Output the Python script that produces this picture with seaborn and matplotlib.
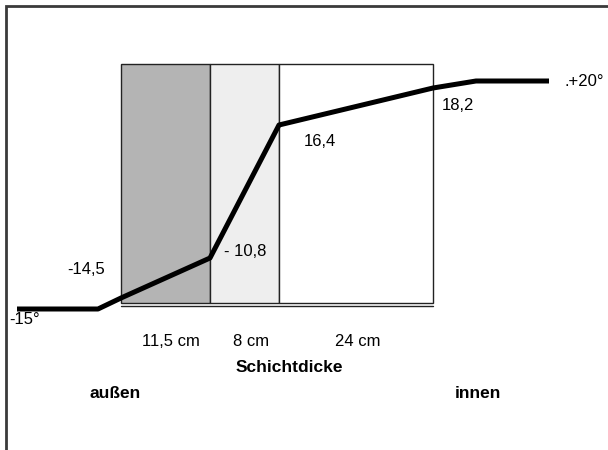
import matplotlib
matplotlib.use("Agg")
import matplotlib.pyplot as plt
import seaborn as sns
import pandas as pd

# schematic wall layers (drawing units, not to scale)
layer_left = [121, 210, 279]
layer_width = [89, 69, 154]
layer_labels = ["11,5 cm", "8 cm", "24 cm"]
layer_colors = ["#b4b4b4", "#eeeeee", "#ffffff"]
wall_top = 64
wall_bottom = 303

# temperature profile through the wall (schematic heights)
temp_x = [17, 98, 121, 210, 279, 433, 476, 549]
temp_y = [309, 309, 298, 258, 125, 88, 81, 81]

# labels of the temperatures at the layer boundaries
point_labels = ["-15°", "-14,5", "- 10,8", "16,4", "18,2", ".+20°"]
point_x = [9, 86, 245, 320, 458, 565]
point_y = [320, 269, 252, 142, 105, 82]
point_ha = ["left", "center", "center", "center", "center", "left"]

sns.set_style("white")
plt.rcParams['font.family'] = ['Liberation Sans', 'DejaVu Sans']
plt.rcParams['text.color'] = 'black'

fig = plt.figure(figsize=(6.08, 4.5), dpi=100)
ax = fig.add_axes([0, 0, 1, 1])

# frame (left and top only)
ax.plot([6, 6, 608], [450, 6, 6], color="#3a3a3a", lw=2, solid_joinstyle="miter")

# layers
ax.bar(layer_left, [wall_bottom - wall_top] * 3, width=layer_width, bottom=wall_top,
       align="edge", color=layer_colors, edgecolor="#222222", linewidth=1.0, zorder=1)
ax.plot([layer_left[0], layer_left[-1] + layer_width[-1]], [wall_bottom + 2.5] * 2,
        color="#222222", lw=1.0, zorder=1)

# temperature line
df = pd.DataFrame({"x": temp_x, "y": temp_y})
sns.lineplot(data=df, x="x", y="y", sort=False, color="black", lw=3.6,
             solid_capstyle="butt", ax=ax, zorder=3)
ax.set_xlim(0, 608)
ax.set_ylim(450, 0)
ax.axis("off")

for t, x, y, ha in zip(point_labels, point_x, point_y, point_ha):
    ax.text(x, y, t, ha=ha, va="center", fontsize=12, zorder=4)

# layer thickness labels
label_x = [171, 251, 358]
for x, t in zip(label_x, layer_labels):
    ax.text(x, 342, t, ha="center", va="center", fontsize=12)

ax.text(289, 367, "Schichtdicke", ha="center", va="center", fontsize=12.5, fontweight="bold")
ax.text(115, 394, "außen", ha="center", va="center", fontsize=12.5, fontweight="bold")
ax.text(478, 393, "innen", ha="center", va="center", fontsize=12.5, fontweight="bold")

fig.savefig("out.png", dpi=100)
